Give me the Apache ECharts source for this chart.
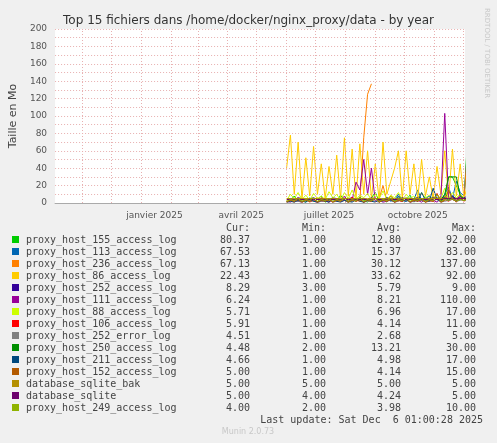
<!DOCTYPE html><html><head><meta charset="utf-8">
<script src="https://cdn.jsdelivr.net/npm/echarts@6/dist/echarts.min.js"></script>
<style>html,body{margin:0;background:#f0f0f0}#c{width:497px;height:443px}</style></head><body><div id="c"></div>
<script>
// day index 0 = 2024-10-04
const startDay = 240, step = 4;
const days = Array.from({length:48},(_,i)=>startDay+i*step);
const monthLabels = [{d:103,t:'janvier 2025'},{d:193,t:'avril 2025'},{d:284,t:'juillet 2025'},{d:376,t:'octobre 2025'}];
const monthStarts = [-3,28,58,89,120,148,179,209,240,270,301,332,362,393,423];
const names = ['proxy_host_155_access_log','proxy_host_113_access_log','proxy_host_236_access_log','proxy_host_86_access_log','proxy_host_252_access_log','proxy_host_111_access_log','proxy_host_88_access_log','proxy_host_106_access_log','proxy_host_252_error_log','proxy_host_250_access_log','proxy_host_211_access_log','proxy_host_152_access_log','database_sqlite_bak','database_sqlite','proxy_host_249_access_log'];
const colors = ['#00cc00','#0066b3','#ff8000','#ffcc00','#330099','#990099','#ccff00','#ff0000','#808080','#008f00','#00487d','#b35a00','#b38f00','#6b006b','#8fb300'];
const cur = ['80.37','67.53','67.13','22.43','8.29','6.24','5.71','5.91','4.51','4.48','4.66','5.00','5.00','5.00','4.00'];
const mins = ['1.00','1.00','1.00','1.00','3.00','1.00','1.00','1.00','1.00','2.00','1.00','1.00','5.00','4.00','2.00'];
const avgs = ['12.80','15.37','30.12','33.62','5.79','8.21','6.96','4.14','2.68','13.21','4.98','4.14','5.00','4.24','3.98'];
const maxs = ['92.00','83.00','137.00','92.00','9.00','110.00','17.00','11.00','5.00','30.00','17.00','15.00','5.00','5.00','10.00'];
const values = [
 [1,3,8,2,5,1,6,2,4,8,1,3,6,2,9,3,1,5,2,7,3,1,6,12,2,5,1,8,3,6,2,4,9,1,5,3,7,2,8,4,3,6,30,30,20,10,5,80],
 [null,null,null,null,null,null,null,null,null,null,null,null,null,null,null,null,null,null,null,null,null,null,null,null,2,3,5,2,4,10,3,2,6,4,15,3,5,8,2,6,4,10,18,5,25,12,8,67],
 [2,3,1,5,2,4,1,3,6,2,3,1,5,2,3,4,2,6,3,2,75,125,137,null,5,20,3,8,4,2,6,3,5,2,8,4,3,6,2,5,3,8,4,6,3,10,5,67],
 [40,78,10,70,5,52,8,65,10,45,5,42,10,55,5,75,8,62,5,68,10,60,5,45,3,70,10,25,40,60,5,60,10,45,5,50,8,30,5,42,10,60,5,62,8,45,5,22],
 [4,5,4,6,5,4,5,6,4,5,5,4,6,5,4,5,5,6,4,5,5,4,6,5,5,4,6,5,4,5,6,5,4,5,6,5,4,5,6,5,7,5,6,8,5,7,6,8],
 [2,1,3,2,1,4,2,3,1,2,3,1,4,2,3,8,2,3,24,15,50,10,40,2,3,1,2,4,1,3,2,5,1,2,3,1,4,2,3,1,5,103,3,6,2,8,4,6],
 [3,10,5,12,4,9,3,11,5,8,4,13,6,10,3,12,5,15,4,9,6,11,3,10,5,14,4,9,6,12,3,10,5,8,4,12,6,9,3,10,5,17,4,12,6,10,5,6],
 [1,4,2,6,1,5,2,3,1,6,2,4,1,5,2,3,1,7,2,4,1,3,2,6,1,4,2,5,1,3,2,6,1,4,2,5,1,3,2,11,1,4,2,5,1,6,2,6],
 [1,2,3,2,1,4,2,3,1,2,3,5,1,2,4,3,1,2,3,4,1,2,3,2,1,4,2,3,1,2,5,3,1,2,4,3,1,2,3,4,1,2,3,4,2,3,4,4],
 [null,null,null,null,null,null,null,null,null,null,null,null,null,null,null,null,null,null,null,null,null,null,null,null,null,null,null,null,null,null,null,null,null,null,null,null,null,null,null,null,2,10,30,30,30,8,5,4],
 [1,2,1,3,2,1,4,2,1,3,2,1,5,2,1,3,2,1,4,2,1,3,2,1,4,2,6,3,2,8,3,2,5,4,2,12,3,2,17,4,2,6,3,8,2,5,3,5],
 [1,3,2,4,1,3,2,5,1,3,2,4,1,3,2,6,1,3,2,4,1,3,2,5,1,3,2,4,1,3,2,5,1,3,2,4,1,3,2,6,1,3,15,4,2,5,3,5],
 [5,5,5,5,5,5,5,5,5,5,5,5,5,5,5,5,5,5,5,5,5,5,5,5,5,5,5,5,5,5,5,5,5,5,5,5,5,5,5,5,5,5,5,5,5,5,5,5],
 [4,4,4,4,4,4,4,4,4,4,4,4,4,4,4,4,4,4,4,4,4,4,4,4,4,4,4,4,4,4,4,4,4,4,4,4,4,4,4,4,4,5,5,5,5,5,5,5],
 [2,4,3,5,2,4,3,6,2,4,3,5,2,4,3,5,2,4,3,6,2,4,3,5,2,4,3,5,2,4,3,6,2,4,3,5,2,4,3,10,2,4,3,5,2,4,3,4]
];
const G = {left:40,right:32,top:29,bottom:240};
const mono = 'DejaVu Sans Mono';
const graphics = [];
const rowY = i => 240 + i*12;
const hdr = [['Cur:',250],['Min:',326],['Avg:',401],['Max:',476]];
hdr.forEach(h=>graphics.push({type:'text',style:{text:h[0],x:h[1],y:228,align:'right',verticalAlign:'middle',font:'10px '+mono,fill:'#444'}}));
names.forEach((n,i)=>{
  graphics.push({type:'rect',shape:{x:12,y:rowY(i)-4,width:7,height:7},style:{fill:colors[i]}});
  graphics.push({type:'text',style:{text:n,x:26,y:rowY(i),verticalAlign:'middle',font:'10px '+mono,fill:'#444'}});
  [cur,mins,avgs,maxs].forEach((arr,k)=>graphics.push({type:'text',style:{text:arr[i],x:[250,326,401,476][k],y:rowY(i),align:'right',verticalAlign:'middle',font:'10px '+mono,fill:'#444'}}));
});
graphics.push({type:'text',style:{text:'Last update: Sat Dec  6 01:00:28 2025',x:483,y:420,align:'right',verticalAlign:'middle',font:'10px '+mono,fill:'#444'}});
graphics.push({type:'text',style:{text:'Munin 2.0.73',x:248,y:432,align:'center',verticalAlign:'middle',font:'8px DejaVu Sans',fill:'#c8c8c8'}});
graphics.push({type:'text',rotation:-Math.PI/2,x:487,y:8,style:{text:'RRDTOOL / TOBI OETIKER',verticalAlign:'middle',font:'7px DejaVu Sans',fill:'#c8c8c8'}});
const chart = echarts.init(document.getElementById('c'));
chart.setOption({
  backgroundColor:'#f0f0f0',animation:false,
  title:{text:'Top 15 fichiers dans /home/docker/nginx_proxy/data - by year',left:'center',top:10,textStyle:{fontFamily:'DejaVu Sans',fontSize:12,fontWeight:'normal',color:'#333'}},
  grid:[{...G,show:true,backgroundColor:'#fff',borderWidth:0}],
  xAxis:[{type:'value',min:0,max:425,
    axisLine:{lineStyle:{color:'#aaa'}},axisTick:{show:false},
    splitLine:{show:false},
    axisLabel:{customValues:monthLabels.map(m=>m.d),formatter:v=>{const m=monthLabels.find(x=>x.d===v);return m?m.t:'';},fontFamily:'DejaVu Sans',fontSize:9,color:'#555'}},
   {type:'value',min:0,max:425,position:'bottom',axisLine:{show:false},axisLabel:{show:false},
    axisTick:{customValues:monthStarts,show:false},splitLine:{show:false}}],
  yAxis:{type:'value',min:0,max:200,interval:10,name:'Taille en Mo',nameLocation:'middle',nameGap:28,nameTextStyle:{fontFamily:'DejaVu Sans',fontSize:11,color:'#444'},
    axisLine:{show:false},axisTick:{show:false},
    axisLabel:{formatter:v=>v%20===0?String(v):'',fontFamily:'DejaVu Sans',fontSize:9,color:'#555'},
    splitLine:{lineStyle:{color:'#e8b0b0',type:[1,2]}}},
  graphic:graphics,
  series:[
    {type:'line',xAxisIndex:0,data:[],silent:true,markLine:{symbol:'none',silent:true,label:{show:false},lineStyle:{color:'#e8b0b0',type:[1,2],width:1},data:monthStarts.filter(d=>d>0).map(d=>({xAxis:d}))}},
    ...names.map((n,i)=>({name:n,type:'line',showSymbol:false,symbol:'none',lineStyle:{width:1,color:colors[i]},itemStyle:{color:colors[i]},
      data:days.map((d,j)=>[d,values[i][j]])}))
  ]
});
</script></body></html>
